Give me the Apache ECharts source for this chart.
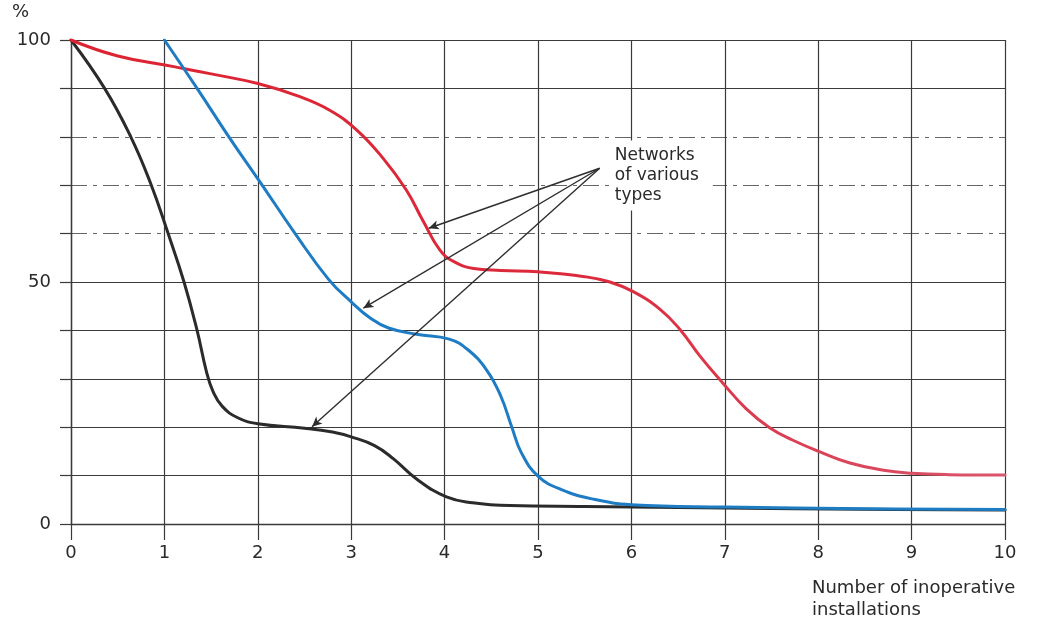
<!DOCTYPE html>
<html>
<head>
<meta charset="utf-8">
<script src="https://cdn.jsdelivr.net/npm/echarts@6/dist/echarts.min.js"></script>
<style>
  html, body { margin: 0; padding: 0; background: #fff; }
  #chart { width: 1037px; height: 625px; }
</style>
</head>
<body>
<div id="chart"></div>
<script>
// Share of the network still working (%) against the number of inoperative installations
const xTicks = [0, 1, 2, 3, 4, 5, 6, 7, 8, 9, 10];
const yLabelValues = [0, 50, 100];

const blackCurve = [
  [0, 100], [0.36, 90], [0.64, 80], [0.85, 70.5], [1.04, 60], [1.21, 50], [1.35, 40],
  [1.45, 31.5], [1.52, 27.4], [1.62, 24.3], [1.78, 22], [2.0, 20.7], [2.5, 19.8],
  [2.8, 19], [3.0, 18], [3.25, 16.2], [3.45, 13.5], [3.7, 9.3], [4.02, 5.6], [4.3, 4.4],
  [4.7, 3.8], [5.5, 3.6], [7, 3.3], [8.5, 3.05], [10, 2.9]
];

const blueCurve = [
  [1, 100], [1.35, 90], [1.69, 80], [2.03, 70.5], [2.4, 60], [2.76, 50.5],
  [3.0, 45.9], [3.2, 42.6], [3.4, 40.5], [3.7, 39.2], [4.05, 38.2], [4.25, 36],
  [4.45, 31.8], [4.6, 26.5], [4.72, 20], [4.82, 14.8], [5.0, 9.9], [5.25, 7.1],
  [5.6, 5.1], [6.0, 4.0], [7, 3.5], [8.5, 3.15], [10, 3.0]
];

const redCurve = [
  [0, 100], [0.5, 96.7], [1.1, 94.5], [1.5, 93], [2.0, 91], [2.45, 88.3],
  [2.77, 85.5], [3.06, 81.4], [3.34, 75.6], [3.59, 69], [3.77, 62.6], [3.95, 56.6],
  [4.1, 54.2], [4.31, 52.8], [4.6, 52.4], [5.0, 52.1], [5.5, 51.1], [5.77, 50.0],
  [6.02, 48], [6.31, 44.3], [6.52, 40.2], [6.73, 34.8], [6.98, 29.1], [7.23, 23.8],
  [7.48, 19.9], [7.73, 17.3], [8.02, 14.9], [8.34, 12.6], [8.7, 11.1], [9.0, 10.5],
  [9.4, 10.2], [10, 10.1]
];

// Callout: label anchor and the three arrow tips, in data units
const calloutText = 'Networks\nof various\ntypes';
const calloutAnchor = [5.78, 72];
const arrowFrom = [5.66, 73.5];
const arrowTips = [[3.83, 61.1], [3.13, 44.6], [2.58, 20.1]];

const ink = '#2a2a2a';
const gridInk = '#3a3a3a';
const fontFamily = '"DejaVu Sans", sans-serif';

// Rows 60, 70 and 80 are printed as broken rules; the rest are solid
const solidRowColors = xTicks.map((_, i) => (i >= 6 && i <= 8) ? 'rgba(0,0,0,0)' : gridInk);
const dashedRowColors = xTicks.map((_, i) => (i >= 6 && i <= 8) ? '#666666' : 'rgba(0,0,0,0)');

const chart = echarts.init(document.getElementById('chart'), null, { renderer: 'canvas' });

const curveLine = (color, width) => ({
  type: 'line',
  smooth: 0.45,
  showSymbol: false,
  symbol: 'none',
  lineStyle: { color: color, width: width, cap: 'round', join: 'round' },
  emphasis: { disabled: true },
  animation: false
});

chart.setOption({
  backgroundColor: '#ffffff',
  animation: false,
  grid: { left: 71, right: 32, top: 40, bottom: 101 },
  xAxis: {
    type: 'value',
    min: 0, max: 10, interval: 1,
    axisLine: { show: true, onZero: false, lineStyle: { color: gridInk, width: 1.4 } },
    axisTick: { show: true, length: 16, lineStyle: { color: gridInk, width: 1.2 } },
    axisLabel: { color: ink, fontSize: 18, margin: 20, fontFamily: fontFamily },
    splitLine: { show: true, lineStyle: { color: gridInk, width: 1.2 } }
  },
  yAxis: [{
    type: 'value',
    min: 0, max: 100, interval: 10,
    axisLine: { show: true, lineStyle: { color: gridInk, width: 1.4 } },
    axisTick: { show: true, length: 11, lineStyle: { color: gridInk, width: 1.2 } },
    axisLabel: {
      color: ink, fontSize: 18, margin: 20, fontFamily: fontFamily,
      formatter: v => yLabelValues.includes(v) ? String(v) : ''
    },
    splitLine: { show: true, lineStyle: { color: solidRowColors, width: 1.2 } }
  }, {
    type: 'value',
    min: 0, max: 100, interval: 10,
    position: 'left',
    axisLine: { show: false },
    axisTick: { show: false },
    axisLabel: { show: false },
    splitLine: { show: true, lineStyle: { color: dashedRowColors, width: 1.2, type: [16, 6, 4, 6] } }
  }],
  graphic: [{
    type: 'text', left: 12, top: 3,
    style: { text: '%', fill: ink, font: '18px ' + fontFamily }
  }, {
    type: 'text', left: 812, top: 577,
    style: { text: 'Number of inoperative\ninstallations', fill: ink, font: '18px ' + fontFamily, lineHeight: 22 }
  }],
  series: [
    Object.assign(curveLine('#2b2b2b', 3), { name: 'Network A', data: blackCurve, z: 3 }),
    Object.assign(curveLine({
      type: 'linear', x: 0, y: 0, x2: 1, y2: 0,
      colorStops: [{ offset: 0, color: '#dd2331' }, { offset: 0.55, color: '#dc2a3c' }, { offset: 1, color: '#d9566c' }]
    }, 3), {
      name: 'Network C', data: redCurve, z: 3,
      markLine: {
        silent: true,
        animation: false,
        symbol: ['none', 'arrow'],
        symbolSize: [7, 10],
        label: { show: false },
        lineStyle: { color: '#2e2e2e', width: 1.4, type: 'solid' },
        data: arrowTips.map(t => [{ coord: arrowFrom }, { coord: t }])
      },
      markPoint: {
        silent: true,
        animation: false,
        symbol: 'circle',
        symbolSize: 0,
        data: [{
          coord: calloutAnchor,
          label: {
            show: true,
            position: 'right',
            distance: 0,
            formatter: calloutText,
            color: ink,
            fontSize: 17,
            fontFamily: fontFamily,
            lineHeight: 20,
            align: 'left',
            backgroundColor: '#ffffff',
            padding: [4, 14, 6, 4]
          }
        }]
      }
    }),
    Object.assign(curveLine('#1d7cc4', 3), { name: 'Network B', data: blueCurve, z: 4 })
  ]
});
</script>
</body>
</html>
